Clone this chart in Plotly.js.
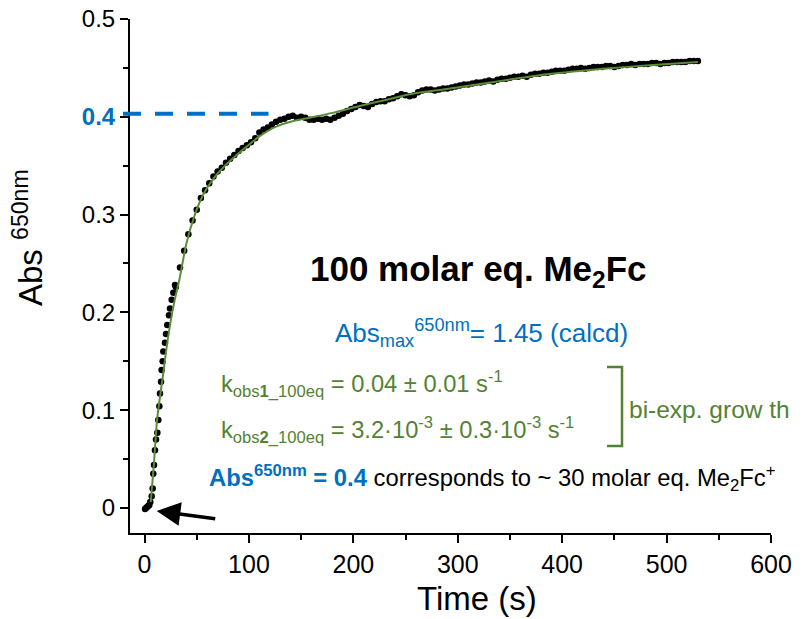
<!DOCTYPE html>
<html>
<head>
<meta charset="utf-8">
<script src="https://cdn.plot.ly/plotly-3.0.1.min.js"></script>
<style>html,body{margin:0;padding:0;background:#fff;}#chart{width:805px;height:619px;}</style>
</head>
<body>
<div id="chart"></div>
<script>
// ---- data ----
// observed absorbance (black dots)
const timeObs = [0.5,1.5,2.5,3.6,4.6,5.5,6.9,7.8,8.4,9.1,10.0,11.0,12.3,13.2,14.2,14.8,15.8,16.4,17.4,18.0,19.6,20.6,21.8,23.4,24.4,26.0,27.6,29.2,
 30,34,38,42,46,50,54,58,62,66,70,74,78,82,86,90,94,98,102,106,110,114,118,122,126,130,134,138,142,146,150,154,158,162,166,170,174,178,
 182,186,190,194,198,202,206,210,214,218,222,226,230,234,238,242,246,250,254,258,262,266,270,274,278,282,286,290,294,298,302,306,310,314,
 318,322,326,330,334,338,342,346,350,354,358,362,366,370,374,378,382,386,390,394,398,402,406,410,414,418,422,426,430,434,438,442,446,450,
 454,458,462,466,470,474,478,482,486,490,494,498,502,506,510,514,518,522,526,530];
const absObs = [-0.001,0.000,0.001,0.002,0.003,0.006,0.012,0.020,0.035,0.044,0.059,0.070,0.077,0.090,0.104,0.117,0.129,0.141,0.150,0.160,0.169,0.178,0.187,0.197,0.204,0.213,0.220,0.228,
 0.226,0.246,0.263,0.280,0.294,0.305,0.317,0.325,0.332,0.339,0.344,0.348,0.353,0.357,0.361,0.365,0.368,0.371,0.374,0.378,0.384,0.387,0.389,0.392,0.395,0.397,0.398,0.400,0.401,0.399,0.400,0.399,0.397,0.397,0.398,0.397,0.398,0.397,
 0.399,0.401,0.403,0.406,0.408,0.410,0.412,0.411,0.410,0.413,0.415,0.416,0.416,0.418,0.419,0.421,0.423,0.422,0.421,0.422,0.425,0.427,0.428,0.428,0.427,0.428,0.429,0.429,0.430,0.431,0.432,0.433,0.433,0.434,
 0.435,0.435,0.436,0.437,0.436,0.438,0.439,0.439,0.440,0.441,0.441,0.442,0.441,0.443,0.444,0.444,0.445,0.445,0.446,0.447,0.447,0.447,0.448,0.449,0.449,0.450,0.449,0.450,0.451,0.451,0.451,0.452,0.452,0.451,
 0.452,0.453,0.453,0.454,0.453,0.454,0.454,0.454,0.455,0.455,0.454,0.455,0.455,0.456,0.456,0.456,0.456,0.457,0.457,0.457];

// bi-exponential fit (green line)
const timeFit = [6,9,12,15,18,21,24.4,29,33.3,40,47,56,67,79,95,110,126,140,158,180,206,230,254,286,318,375,439,487,530];
const absFit  = [0.006,0.045,0.090,0.115,0.138,0.163,0.187,0.213,0.233,0.270,0.296,0.320,0.338,0.352,0.367,0.380,0.390,0.395,0.399,0.404,0.411,0.417,0.423,0.428,0.433,0.442,0.449,0.453,0.456];

// axis ticks
const yTickVals = [0,0.1,0.2,0.3,0.4,0.5];
const yTickText = ['0','0.1','0.2','0.3','<span style="color:#0070C0"><b>0.4</b></span>','0.5'];
const xTickVals = [0,100,200,300,400,500,600];
const xTickText = ['0','100','200','300','400','500','600'];

// reference level (blue dashed line)
const refLevel = 0.403;
// arrow marks the start of the reaction
const arrowTime = 11.7, arrowAbs = -0.003;

const xRange = [-13.9, 600];
const yRange = [-0.0256, 0.5];

const BLUE = '#0070C0', GREEN = '#548235';
const FONT = 'Liberation Sans, Arial, sans-serif';

const traces = [
  {x: timeObs, y: absObs, type: 'scatter', mode: 'markers',
   marker: {color: '#000', size: 6.5}, hoverinfo: 'skip', showlegend: false},
  {x: timeFit, y: absFit, type: 'scatter', mode: 'lines',
   line: {color: '#5A8C3A', width: 2, shape: 'spline', smoothing: 0.6}, hoverinfo: 'skip', showlegend: false}
];

const L = 130, R = 34, T = 19, B = 86, W = 805, H = 619;
const px = v => (v - L) / (W - L - R);      // page pixel -> paper x
const py = v => (H - B - v) / (H - T - B);  // page pixel -> paper y
const yPaper = v => (v - yRange[0]) / (yRange[1] - yRange[0]);

const layout = {
  width: W, height: H,
  margin: {l: L, r: R, t: T, b: B, pad: 0},
  paper_bgcolor: '#fff', plot_bgcolor: '#fff',
  font: {family: FONT, color: '#000'},
  showlegend: false,
  xaxis: {
    range: xRange, showgrid: false, zeroline: false,
    showline: true, linecolor: '#000', linewidth: 2,
    ticks: 'outside', ticklen: 8, tickwidth: 2, tickcolor: '#000',
    tickvals: xTickVals, ticktext: xTickText,
    tickfont: {size: 25, family: FONT, color: '#000'},
    minor: {ticks: 'outside', dtick: 50, tick0: 0, ticklen: 5, tickwidth: 2, tickcolor: '#000'}
  },
  yaxis: {
    range: yRange, showgrid: false, zeroline: false,
    showline: true, linecolor: '#000', linewidth: 2,
    ticks: 'outside', ticklen: 8, tickwidth: 2, tickcolor: '#000',
    tickvals: yTickVals, ticktext: yTickText,
    tickfont: {size: 24, family: FONT, color: '#000'},
    minor: {ticks: 'outside', dtick: 0.05, tick0: 0, ticklen: 5, tickwidth: 2, tickcolor: '#000'}
  },
  shapes: [
    {type: 'line', xref: 'paper', yref: 'paper', x0: px(123), x1: px(268.5),
     y0: yPaper(refLevel), y1: yPaper(refLevel),
     line: {color: BLUE, width: 4, dash: '18px,14px'}},
    {type: 'path', xref: 'paper', yref: 'paper',
     path: `M ${px(607)} ${py(367)} L ${px(622)} ${py(367)} L ${px(622)} ${py(446)} L ${px(607)} ${py(446)}`,
     line: {color: GREEN, width: 2.5}}
  ],
  annotations: [
    {xref: 'paper', yref: 'paper', x: px(28), y: py(238), textangle: -90, showarrow: false,
     text: 'Abs <sup>650nm</sup>', font: {size: 33, family: FONT, color: '#000'}, xanchor: 'center', yanchor: 'middle'},
    {xref: 'paper', yref: 'paper', x: px(476.5), y: py(598), showarrow: false,
     text: 'Time (s)', font: {size: 33, family: FONT, color: '#000'}, xanchor: 'center', yanchor: 'middle'},
    {xref: 'paper', yref: 'paper', x: px(478.5), y: py(271), showarrow: false,
     text: '<b>100 molar eq. Me<sub>2</sub>Fc</b>', font: {size: 35, family: FONT, color: '#000'}, xanchor: 'center', yanchor: 'middle'},
    {xref: 'paper', yref: 'paper', x: px(481), y: py(333), showarrow: false,
     text: 'Abs<sub>max</sub><sup>650nm</sup>= 1.45 (calcd)', font: {size: 26, family: FONT, color: BLUE}, xanchor: 'center', yanchor: 'middle'},
    {xref: 'paper', yref: 'paper', x: px(219), y: py(384), showarrow: false,
     text: 'k<sub>obs<b>1</b>_100eq</sub> = 0.04 ± 0.01 s<sup>-1</sup>', font: {size: 23.7, family: FONT, color: GREEN}, xanchor: 'left', yanchor: 'middle'},
    {xref: 'paper', yref: 'paper', x: px(219), y: py(430), showarrow: false,
     text: 'k<sub>obs<b>2</b>_100eq</sub> = 3.2·10<sup>-3</sup> ± 0.3·10<sup>-3</sup> s<sup>-1</sup>', font: {size: 23.7, family: FONT, color: GREEN}, xanchor: 'left', yanchor: 'middle'},
    {xref: 'paper', yref: 'paper', x: px(627), y: py(409), showarrow: false,
     text: 'bi-exp. grow th', font: {size: 24.5, family: FONT, color: GREEN}, xanchor: 'left', yanchor: 'middle'},
    {xref: 'paper', yref: 'paper', x: px(207), y: py(478), showarrow: false,
     text: '<span style="color:#0070C0"><b>Abs<sup>650nm</sup> = 0.4</b></span> corresponds to ~ 30 molar eq. Me<sub>2</sub>Fc<sup>+</sup>',
     font: {size: 23.8, family: FONT, color: '#000'}, xanchor: 'left', yanchor: 'middle'},
    {xref: 'x', yref: 'y', x: arrowTime, y: arrowAbs, ax: 60, ay: 8, axref: 'pixel', ayref: 'pixel',
     text: '', showarrow: true, arrowhead: 2, arrowsize: 1.35, arrowwidth: 3.5, arrowcolor: '#000'}
  ]
};

Plotly.newPlot('chart', traces, layout, {staticPlot: true, displayModeBar: false});
</script>
</body>
</html>
